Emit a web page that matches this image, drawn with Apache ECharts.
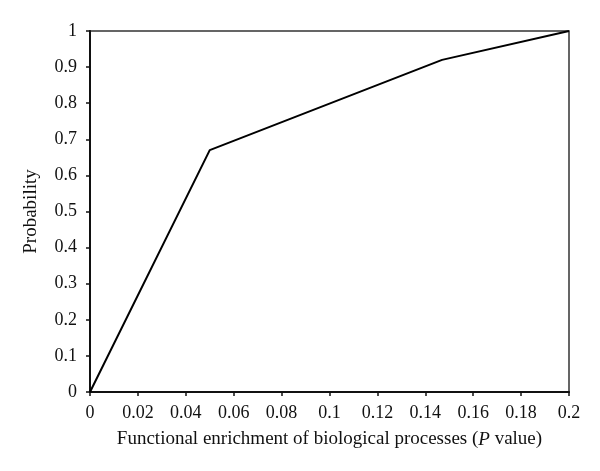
<!DOCTYPE html>
<html>
<head>
<meta charset="utf-8">
<script src="https://cdn.jsdelivr.net/npm/echarts@6/dist/echarts.min.js"></script>
<style>
  html, body { margin: 0; padding: 0; background: #fff; }
  #chart { width: 600px; height: 471px; }
</style>
</head>
<body>
<div id="chart"></div>
<script>
// p value (x) vs probability (y)
const pValues = [0, 0.05, 0.147, 0.2]
const probability = [0, 0.67, 0.92, 1]

const font = '"Liberation Serif", "DejaVu Serif", serif'

const chart = echarts.init(document.getElementById('chart'))

chart.setOption({
  animation: false,
  grid: {
    left: 90,
    top: 31,
    right: 31,
    bottom: 79,
    show: true,
    borderColor: '#333',
    borderWidth: 1.5
  },
  xAxis: {
    type: 'value',
    min: 0,
    max: 0.2,
    interval: 0.02,
    name: 'Functional enrichment of biological processes ({i|P} value)',
    nameLocation: 'middle',
    nameGap: 38,
    nameTextStyle: {
      fontFamily: font, fontSize: 19, color: '#111',
      rich: { i: { fontFamily: font, fontSize: 19, fontStyle: 'italic', color: '#111' } }
    },
    axisLine: { lineStyle: { color: '#111', width: 2 } },
    axisTick: { show: true, length: 4, lineStyle: { color: '#111', width: 1.5 } },
    axisLabel: {
      fontFamily: font,
      fontSize: 18,
      color: '#111',
      margin: 12,
      formatter: (v) => String(parseFloat(v.toFixed(2)))
    },
    splitLine: { show: false }
  },
  yAxis: {
    type: 'value',
    min: 0,
    max: 1,
    interval: 0.1,
    name: 'Probability',
    nameLocation: 'middle',
    nameGap: 49,
    nameTextStyle: { fontFamily: font, fontSize: 19, color: '#111' },
    axisLine: { show: true, lineStyle: { color: '#111', width: 2 } },
    axisTick: { show: true, length: 4, lineStyle: { color: '#111', width: 1.5 } },
    axisLabel: {
      fontFamily: font,
      fontSize: 18,
      color: '#111',
      margin: 13,
      formatter: (v) => String(parseFloat(v.toFixed(1)))
    },
    splitLine: { show: false }
  },
  series: [
    {
      type: 'line',
      data: pValues.map((x, i) => [x, probability[i]]),
      symbol: 'none',
      lineStyle: { color: '#000', width: 2 }
    }
  ]
})
</script>
</body>
</html>
